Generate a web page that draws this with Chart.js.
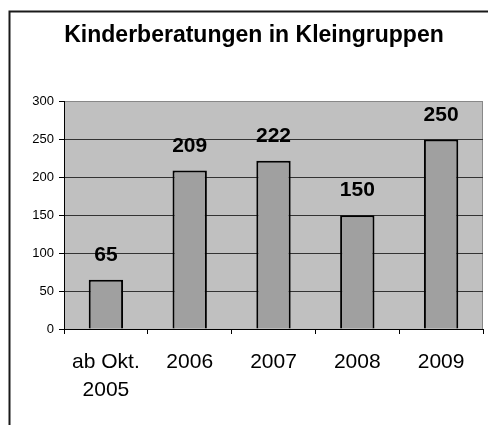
<!DOCTYPE html>
<html lang="de">
<head>
    <meta charset="UTF-8">
    <title>Kinderberatungen in Kleingruppen</title>
    <script src="https://cdn.jsdelivr.net/npm/chart.js@4"></script>
    <style>
        html, body { margin: 0; padding: 0; background: #fff; }
        #wrap { width: 488px; height: 425px; }
    </style>
</head>
<body>
<div id="wrap"><canvas id="beratungChart" width="488" height="425"></canvas></div>
<script>
  // chart data
  const categories = [['ab Okt.', '2005'], '2006', '2007', '2008', '2009'];
  const values = [65, 209, 222, 150, 250];
  const yTicks = [0, 50, 100, 150, 200, 250, 300];

  // grey plot background, outer frame and value labels above the bars
  const excelLook = {
    id: 'excelLook',
    beforeDraw(chart) {
      const ctx = chart.ctx;
      const a = chart.chartArea;
      ctx.save();
      ctx.fillStyle = '#c0c0c0';
      ctx.fillRect(a.left, a.top, a.right - a.left, a.bottom - a.top);
      ctx.strokeStyle = '#888';
      ctx.lineWidth = 1;
      ctx.beginPath();
      ctx.moveTo(a.right - 0.5, a.top);
      ctx.lineTo(a.right - 0.5, a.bottom);
      ctx.stroke();
      // outer frame
      ctx.strokeStyle = '#1a1a1a';
      ctx.lineWidth = 2;
      ctx.beginPath();
      ctx.moveTo(9.5, chart.height);
      ctx.lineTo(9.5, 11.5);
      ctx.lineTo(chart.width, 11.5);
      ctx.stroke();
      ctx.restore();
    },
    afterDatasetsDraw(chart) {
      const ctx = chart.ctx;
      const meta = chart.getDatasetMeta(0);
      ctx.save();
      ctx.font = 'bold 21px "Liberation Sans", Arial, sans-serif';
      ctx.fillStyle = '#000';
      ctx.textAlign = 'center';
      ctx.textBaseline = 'alphabetic';
      meta.data.forEach((bar, i) => {
        ctx.fillText(String(values[i]), bar.x, bar.y - 19);
      });
      ctx.restore();
    }
  };

  const ctx = document.getElementById('beratungChart').getContext('2d');

  new Chart(ctx, {
    type: 'bar',
    data: {
      labels: categories,
      datasets: [{
        data: values,
        backgroundColor: '#a0a0a0',
        borderColor: '#000',
        borderWidth: 2,
        categoryPercentage: 1,
        barPercentage: 0.41
      }]
    },
    options: {
      responsive: false,
      animation: false,
      layout: { padding: { left: 25, right: 5, top: 0, bottom: 0 } },
      plugins: {
        legend: { display: false },
        tooltip: { enabled: false },
        title: {
          display: true,
          text: 'Kinderberatungen in Kleingruppen',
          color: '#000',
          font: { family: '"Liberation Sans", Arial, sans-serif', size: 23, weight: 'bold', lineHeight: 1.2 },
          padding: { top: 22, bottom: 52 }
        }
      },
      scales: {
        x: {
          grid: {
            offset: true,
            drawOnChartArea: false,
            drawTicks: true,
            tickLength: 5,
            tickColor: '#000'
          },
          border: { color: '#000', width: 1 },
          ticks: {
            color: '#000',
            padding: 14,
            maxRotation: 0,
            font: { family: '"Liberation Sans", Arial, sans-serif', size: 21, lineHeight: 1.33 }
          },
          afterFit(scale) { scale.height = 96; }
        },
        y: {
          min: 0,
          max: 300,
          afterBuildTicks(scale) { scale.ticks = yTicks.map(v => ({ value: v })); },
          grid: {
            color: (c) => (c.tick && c.tick.value === 300 ? '#888' : '#333'),
            lineWidth: 1,
            tickLength: 5,
            tickColor: '#000'
          },
          border: { color: '#000', width: 1 },
          ticks: {
            color: '#000',
            padding: 5,
            font: { family: '"Liberation Sans", Arial, sans-serif', size: 13 }
          },
          afterFit(scale) { scale.width = 39; }
        }
      }
    },
    plugins: [excelLook]
  });
</script>
</body>
</html>
